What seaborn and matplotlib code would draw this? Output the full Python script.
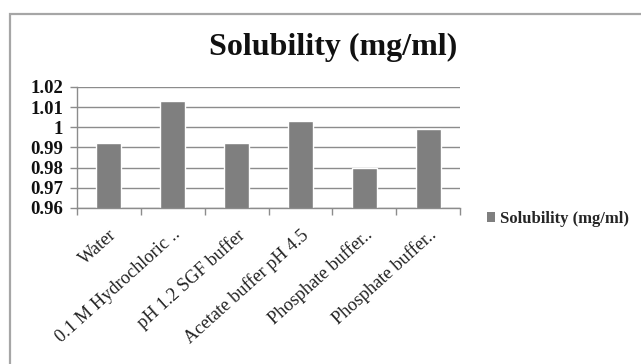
import matplotlib
matplotlib.use("Agg")
import matplotlib.pyplot as plt
from matplotlib.patches import Rectangle, Patch
import seaborn as sns
import pandas as pd

categories = [
    "Water",
    "0.1 M Hydrochloric ..",
    "pH 1.2 SGF buffer",
    "Acetate buffer pH 4.5",
    "Phosphate buffer..",
    "Phosphate buffer..",
]
solubility = [0.992, 1.013, 0.992, 1.003, 0.980, 0.999]
yticks = [0.96, 0.97, 0.98, 0.99, 1.0, 1.01, 1.02]
ytick_labels = ["0.96", "0.97", "0.98", "0.99", "1", "1.01", "1.02"]
series_name = "Solubility (mg/ml)"

sns.set_theme(style="white")
plt.rcParams["font.family"] = ["Liberation Serif", "DejaVu Serif"]

df = pd.DataFrame({"idx": range(len(categories)), "value": solubility})

fig = plt.figure(figsize=(6.41, 3.64), dpi=100)
fig.patch.set_facecolor("white")
ax = fig.add_axes([77 / 641, 1 - 208 / 364, (460 - 77) / 641, (208 - 87) / 364])

bar_color = "#7f7f7f"
sns.barplot(data=df, x="idx", y="value", color=bar_color, width=0.39,
            saturation=1, ax=ax)

ax.set_ylim(0.96, 1.02)
ax.set_xlim(-0.5, len(categories) - 0.5)
ax.set_yticks(yticks)
ax.set_yticklabels(ytick_labels, fontsize=13.5, fontweight="bold")
ax.set_xticks(range(len(categories)))
ax.set_xticklabels(categories, rotation=42, ha="right",
                   rotation_mode="anchor", fontsize=13.2)
ax.set_xlabel("")
ax.set_ylabel("")

grid_color = "#8c8c8c"
ax.yaxis.grid(True, color=grid_color, linewidth=1.0)
ax.set_axisbelow(True)
for side in ["top", "right"]:
    ax.spines[side].set_visible(False)
for side in ["left", "bottom"]:
    ax.spines[side].set_color(grid_color)
    ax.spines[side].set_linewidth(1.0)

# category boundary tick marks below the axis
ax.set_xticks([i - 0.5 for i in range(len(categories) + 1)], minor=True)
ax.tick_params(axis="x", which="major", length=0, pad=13, colors="#222222")
ax.tick_params(axis="x", which="minor", length=5, width=1,
               color=grid_color, direction="out", bottom=True)
ax.tick_params(axis="y", which="major", length=5, width=1,
               color=grid_color, left=True, pad=5, colors="#111111")
for lbl in ax.get_yticklabels():
    lbl.set_color("#111111")

fig.text(333 / 641, 1 - 47 / 364, series_name, ha="center", va="center",
         fontsize=23, fontweight="bold", color="#111111")

handle = Patch(facecolor=bar_color, edgecolor="none")
fig.legend([handle], [series_name], loc="center left",
           bbox_to_anchor=(487 / 641, 1 - 219 / 364), frameon=False,
           borderpad=0, borderaxespad=0,
           prop={"size": 12, "weight": "bold"}, handlelength=0.5,
           handleheight=0.5, handletextpad=0.25)

# chart area frame
fig.patches.append(Rectangle((10 / 641, -0.1), 1.2, 1 - 14 / 364 + 0.1,
                             transform=fig.transFigure, fill=False,
                             edgecolor="#a6a6a6", linewidth=1.6))

fig.savefig("out.png", dpi=100, facecolor="white")
